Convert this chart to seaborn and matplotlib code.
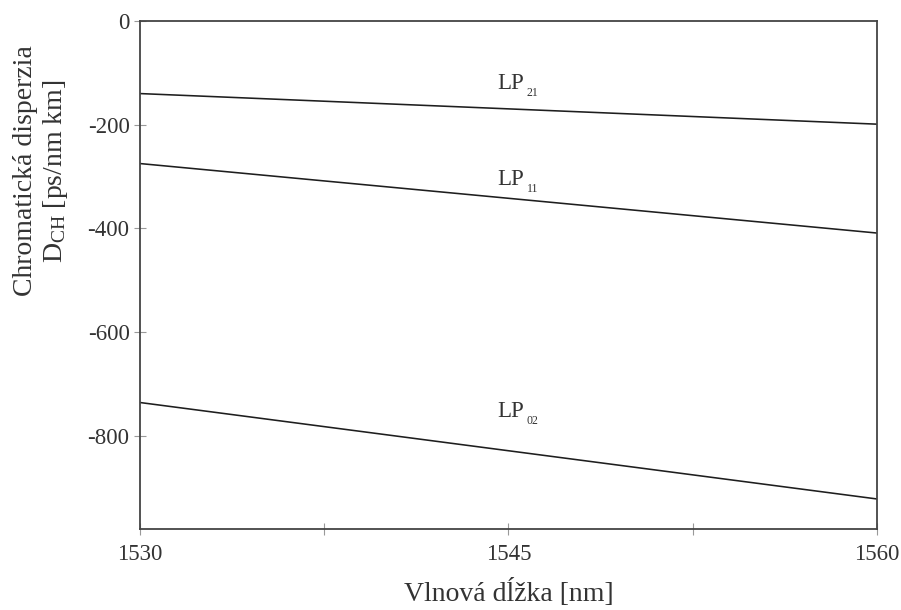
import matplotlib
matplotlib.use("Agg")
import matplotlib.pyplot as plt
import seaborn as sns
import pandas as pd

# Chromatic dispersion of the guided LP modes over the C band
wavelength = [1530, 1560]
lp21 = [-140, -199]
lp11 = [-275, -409]
lp02 = [-736, -922]
mode_names = ["LP21", "LP11", "LP02"]
mode_subscripts = ["21", "11", "02"]
label_y = [-121, -306, -754]
label_x = 1545.1

x_ticks = [1530, 1537.5, 1545, 1552.5, 1560]
x_tick_labels = ["1530", "", "1545", "", "1560"]
y_ticks = [0, -200, -400, -600, -800]

sns.set_theme(style="white")
plt.rcParams["font.family"] = ["Liberation Serif", "DejaVu Serif"]
plt.rcParams["mathtext.fontset"] = "custom"
plt.rcParams["mathtext.rm"] = "Liberation Serif"
plt.rcParams["mathtext.it"] = "Liberation Serif"

df = pd.concat([
    pd.DataFrame({"wl": wavelength, "d": vals, "mode": name})
    for name, vals in zip(mode_names, [lp21, lp11, lp02])
])

fig = plt.figure(figsize=(9.01, 6.10), dpi=100)
ax = fig.add_axes([140 / 901, 1 - 529 / 610, (876.7 - 140) / 901, (529 - 21) / 610])

sns.lineplot(data=df, x="wl", y="d", hue="mode", palette=["#1e1e1e"] * 3,
             legend=False, linewidth=1.15, ax=ax)

text_color = "#333333"
for sub, y in zip(mode_subscripts, label_y):
    ax.text(label_x, y, "LP", ha="center", va="center", fontsize=16.5,
            color=text_color)
    ax.annotate(sub, (label_x, y), xytext=(11.5, -6.5), textcoords="offset points",
                ha="left", va="center", fontsize=8.5, color=text_color)

ax.set_xlim(1530, 1560)
ax.set_ylim(-980, 0)
ax.set_xticks(x_ticks)
ax.set_xticklabels(x_tick_labels)
ax.set_yticks(y_ticks)
ax.set_yticklabels([str(v) for v in y_ticks])

ax.tick_params(axis="both", direction="inout", length=9, width=0.8,
               color="#999999", labelsize=16.5, labelcolor=text_color)
ax.tick_params(axis="x", pad=6)
ax.tick_params(axis="y", pad=3)
ax.tick_params(left=True, bottom=True)

for s in ax.spines.values():
    s.set_color("#444444")
    s.set_linewidth(1.3)

ax.set_ylabel("")
ax.set_xlabel("Vlnová dĺžka [nm]", fontsize=20, color=text_color)
ax.xaxis.set_label_coords(0.5, -0.098)

ax.text(-0.1335, 0.705, "Chromatická disperzia\nD$_{\\mathrm{CH}}$ [ps/nm km]",
        transform=ax.transAxes, rotation=90, ha="center", va="center",
        multialignment="center", fontsize=20, color=text_color, linespacing=1.15)

fig.savefig("out.png", dpi=100)
